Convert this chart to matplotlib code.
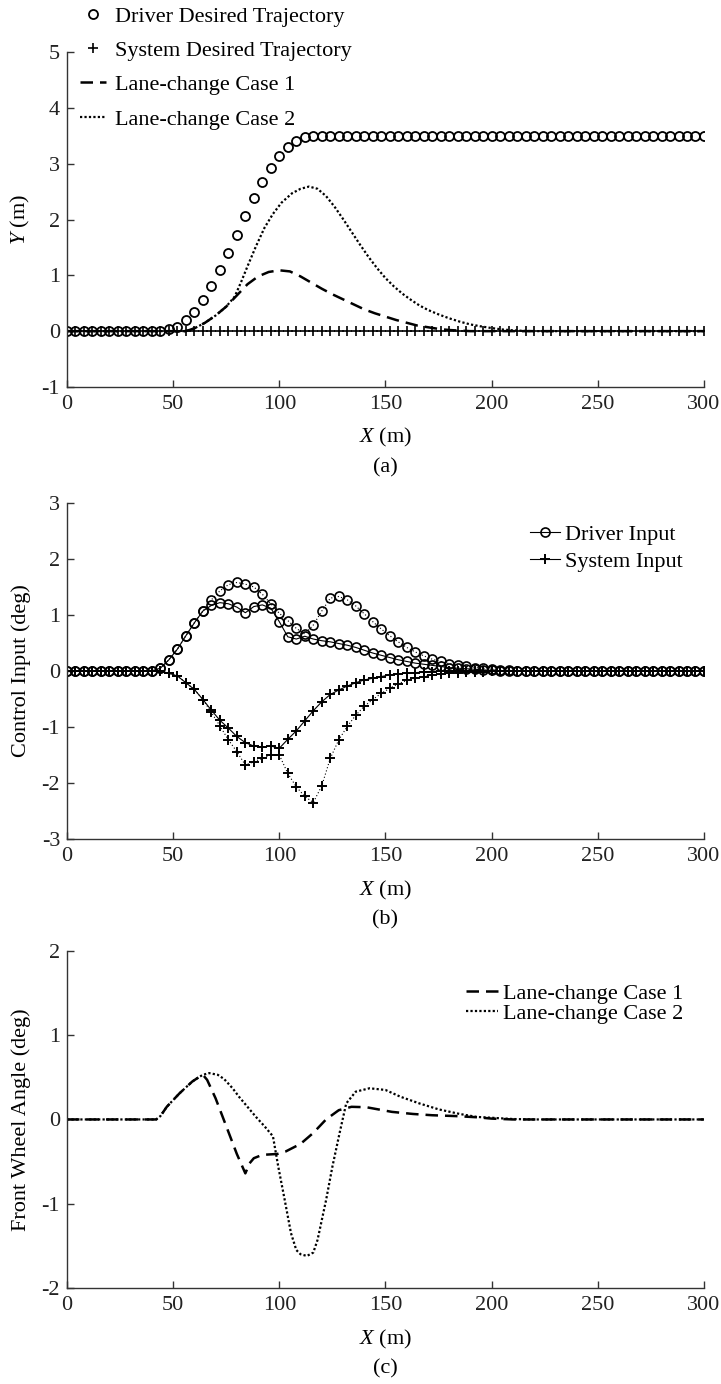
import numpy as np
import matplotlib
matplotlib.use("Agg")
import matplotlib.pyplot as plt

plt.rcParams['font.family'] = ['Liberation Serif', 'DejaVu Serif']
plt.rcParams['mathtext.fontset'] = 'custom'
plt.rcParams['mathtext.rm'] = 'Liberation Serif'
plt.rcParams['mathtext.it'] = 'Liberation Serif:italic'
plt.rcParams['axes.unicode_minus'] = False

# sample positions of the marker series (every 4 m)
x_mark = np.arange(0, 301, 4)

# (a) desired trajectories
driver_desired = [0, 0, 0, 0, 0, 0, 0, 0, 0, 0, 0, 0, 0.03, 0.08, 0.20, 0.35,
                  0.56, 0.81, 1.09, 1.40, 1.73, 2.07, 2.38, 2.67, 2.93, 3.13,
                  3.29, 3.41, 3.47, 3.5, 3.5, 3.5, 3.5, 3.5, 3.5, 3.5, 3.5, 3.5,
                  3.5, 3.5, 3.5, 3.5, 3.5, 3.5, 3.5, 3.5, 3.5, 3.5, 3.5, 3.5,
                  3.5, 3.5, 3.5, 3.5, 3.5, 3.5, 3.5, 3.5, 3.5, 3.5, 3.5, 3.5,
                  3.5, 3.5, 3.5, 3.5, 3.5, 3.5, 3.5, 3.5, 3.5, 3.5, 3.5, 3.5,
                  3.5, 3.5]
system_desired = [0.0] * 76

case1_x = [0, 56, 60, 65, 70, 75, 80, 85, 90, 95, 100, 105, 110, 115, 120, 125,
           130, 135, 140, 145, 150, 155, 160, 165, 170, 175, 180, 185, 190, 300]
case1_y = [0, 0, 0.05, 0.15, 0.28, 0.44, 0.64, 0.84, 0.98, 1.06, 1.09, 1.07,
           0.98, 0.87, 0.76, 0.66, 0.57, 0.48, 0.39, 0.32, 0.26, 0.20, 0.15,
           0.10, 0.07, 0.04, 0.02, 0.01, 0, 0]
case2_x = [0, 56, 60, 65, 70, 75, 79, 82, 85, 89, 93, 97, 101, 106, 110, 114,
           118, 122, 126, 130, 134, 138, 142, 146, 150, 154, 158, 162, 166, 170,
           175, 180, 185, 190, 195, 200, 205, 210, 215, 220, 300]
case2_y = [0, 0, 0.05, 0.15, 0.28, 0.44, 0.62, 0.88, 1.16, 1.52, 1.85, 2.10,
           2.30, 2.47, 2.55, 2.59, 2.55, 2.42, 2.23, 2.01, 1.78, 1.55, 1.33,
           1.13, 0.95, 0.80, 0.67, 0.56, 0.46, 0.38, 0.30, 0.23, 0.17, 0.12,
           0.085, 0.055, 0.03, 0.015, 0.005, 0, 0]

# (b) control inputs
driver_in1 = [0, 0, 0, 0, 0, 0, 0, 0, 0, 0, 0, 0.05, 0.2, 0.39, 0.63, 0.86, 1.07,
              1.17, 1.22, 1.20, 1.14, 1.04, 1.15, 1.18, 1.12, 0.88, 0.61, 0.57,
              0.62, 0.57, 0.54, 0.52, 0.49, 0.46, 0.42, 0.37, 0.32, 0.28, 0.24,
              0.20, 0.17, 0.14, 0.12, 0.10, 0.08, 0.06, 0.05, 0.04, 0.03, 0.02,
              0.01, 0, 0, 0, 0, 0, 0, 0, 0, 0, 0, 0, 0, 0, 0, 0, 0, 0, 0, 0, 0,
              0, 0, 0, 0, 0]
driver_in2 = [0, 0, 0, 0, 0, 0, 0, 0, 0, 0, 0, 0.05, 0.2, 0.39, 0.63, 0.86, 1.07,
              1.27, 1.43, 1.54, 1.58, 1.55, 1.50, 1.37, 1.20, 1.03, 0.90, 0.76,
              0.66, 0.82, 1.07, 1.30, 1.33, 1.27, 1.16, 1.02, 0.88, 0.75, 0.63,
              0.52, 0.42, 0.34, 0.27, 0.21, 0.17, 0.13, 0.10, 0.08, 0.06, 0.05,
              0.03, 0.02, 0.01, 0, 0, 0, 0, 0, 0, 0, 0, 0, 0, 0, 0, 0, 0, 0, 0,
              0, 0, 0, 0, 0, 0, 0]
system_in1 = [0, 0, 0, 0, 0, 0, 0, 0, 0, 0, 0, 0, -0.04, -0.09, -0.21, -0.33,
              -0.51, -0.70, -0.88, -1.02, -1.17, -1.28, -1.34, -1.36, -1.34,
              -1.38, -1.22, -1.07, -0.89, -0.71, -0.55, -0.42, -0.34, -0.27,
              -0.21, -0.16, -0.13, -0.10, -0.07, -0.05, -0.04, -0.03, -0.02,
              -0.01, 0, 0, 0, 0, 0, 0, 0, 0, 0, 0, 0, 0, 0, 0, 0, 0, 0, 0, 0, 0,
              0, 0, 0, 0, 0, 0, 0, 0, 0, 0, 0, 0]
system_in2 = [0, 0, 0, 0, 0, 0, 0, 0, 0, 0, 0, 0, -0.04, -0.09, -0.21, -0.33,
              -0.51, -0.74, -0.98, -1.23, -1.44, -1.68, -1.62, -1.56, -1.50,
              -1.50, -1.83, -2.07, -2.24, -2.35, -2.05, -1.56, -1.23, -0.99,
              -0.79, -0.63, -0.51, -0.40, -0.31, -0.23, -0.17, -0.13, -0.10,
              -0.07, -0.05, -0.04, -0.03, -0.02, -0.01, -0.01, 0, 0, 0, 0, 0, 0,
              0, 0, 0, 0, 0, 0, 0, 0, 0, 0, 0, 0, 0, 0, 0, 0, 0, 0, 0, 0]

# (c) front wheel angle
fw1_x = [0, 42, 44, 47, 50, 53, 56, 59, 62, 64, 66, 70, 75, 80, 84, 86, 88, 92,
         99, 103, 110, 116, 122, 128, 134, 141, 153, 163, 172, 183, 193, 200,
         210, 300]
fw1_y = [0, 0, 0.04, 0.15, 0.23, 0.31, 0.38, 0.45, 0.50, 0.53, 0.47, 0.25,
         -0.08, -0.41, -0.64, -0.52, -0.46, -0.42, -0.41, -0.38, -0.29, -0.16,
         0.0, 0.11, 0.15, 0.145, 0.09, 0.065, 0.05, 0.04, 0.026, 0.01, 0, 0]
fw2_x = [0, 42, 44, 47, 50, 53, 56, 59, 62, 64, 67, 71, 74, 78, 81, 85, 89, 93,
         97, 99.5, 102.5, 105.5, 108, 110, 113, 116, 118, 122, 125, 128.4,
         131.5, 136, 142.5, 150, 157, 166, 175, 185, 193, 200, 210, 220, 300]
fw2_y = [0, 0, 0.04, 0.15, 0.23, 0.31, 0.38, 0.45, 0.50, 0.53, 0.55, 0.53, 0.48,
         0.37, 0.27, 0.15, 0.03, -0.08, -0.20, -0.56, -0.95, -1.35, -1.55,
         -1.60, -1.62, -1.58, -1.43, -0.96, -0.56, -0.16, 0.19, 0.33, 0.37,
         0.35, 0.27, 0.19, 0.12, 0.065, 0.03, 0.02, 0.005, 0, 0]

fig = plt.figure(figsize=(7.21, 13.84), dpi=100)
L, W = 0.0929, 0.8835
ax_a = fig.add_axes([L, 0.7204, W, 0.2420])
ax_b = fig.add_axes([L, 0.3938, W, 0.2428])
ax_c = fig.add_axes([L, 0.0694, W, 0.2435])

dash = (0, (5, 2.8))
dot = (0, (1, 1))
fs = 16

# (a)
ax_a.plot(x_mark, driver_desired, 'o', ms=6.5, mfc='none', mec='k', mew=1.3,
          label='Driver Desired Trajectory')
ax_a.plot(x_mark, system_desired, '+', ms=7, mec='k', mew=1.2,
          label='System Desired Trajectory')
ax_a.plot(case1_x, case1_y, color='k', lw=1.8, ls=dash, label='Lane-change Case 1')
ax_a.plot(case2_x, case2_y, color='k', lw=1.6, ls=dot, label='Lane-change Case 2')
ax_a.set_ylim(-1, 5)
ax_a.set_ylabel('$Y$ (m)', fontsize=fs, va='center')
ax_a.legend(loc='upper left', bbox_to_anchor=(80 / 721, 1 - 6 / 1384),
            bbox_transform=fig.transFigure, frameon=False, fontsize=fs,
            handlelength=1.15, handletextpad=0.42, labelspacing=0.62,
            borderpad=0, borderaxespad=0)

# (b)
ax_b.plot(x_mark, driver_in1, '-o', color='k', lw=0.8, ms=6.5, mfc='none',
          mew=1.2, label='Driver Input')
ax_b.plot(x_mark, driver_in2, 'o', ls=(0, (1, 2)), color='k', lw=0.8, ms=6.5,
          mfc='none', mew=1.2)
ax_b.plot(x_mark, system_in1, '-+', color='k', lw=0.8, ms=7, mew=1.4,
          label='System Input')
ax_b.plot(x_mark, system_in2, '+', ls=(0, (1, 2)), color='k', lw=0.8, ms=7,
          mew=1.4)
ax_b.set_ylim(-3, 3)
ax_b.set_ylabel('Control Input (deg)', fontsize=fs, va='center')
ax_b.legend(loc='upper right', bbox_to_anchor=(683 / 721, 1 - 524 / 1384),
            bbox_transform=fig.transFigure, frameon=False, fontsize=fs,
            handlelength=1.35, handletextpad=0.22, labelspacing=0.3,
            borderpad=0, borderaxespad=0)

# (c)
ax_c.plot(fw1_x, fw1_y, color='k', lw=1.8, ls=dash, label='Lane-change Case 1')
ax_c.plot(fw2_x, fw2_y, color='k', lw=1.6, ls=dot, label='Lane-change Case 2')
ax_c.set_ylim(-2, 2)
ax_c.set_ylabel('Front Wheel Angle (deg)', fontsize=fs, va='center')
ax_c.legend(loc='upper right', bbox_to_anchor=(683 / 721, 1 - 983 / 1384),
            bbox_transform=fig.transFigure, frameon=False, fontsize=fs,
            handlelength=1.45, handletextpad=0.2, labelspacing=0.0,
            borderpad=0, borderaxespad=0)

for ax, tag in [(ax_a, '(a)'), (ax_b, '(b)'), (ax_c, '(c)')]:
    ax.set_xlim(0, 300)
    ax.set_xticks(range(0, 301, 50))
    ymin, ymax = ax.get_ylim()
    ax.set_yticks(range(int(ymin), int(ymax) + 1))
    for s in ['top', 'right']:
        ax.spines[s].set_visible(False)
    for s in ['left', 'bottom']:
        ax.spines[s].set_color('#333333')
        ax.spines[s].set_linewidth(1.0)
    ax.tick_params(direction='in', length=5, width=1, colors='#333333',
                   labelcolor='#222222', labelsize=fs)
    ax.tick_params(axis='x', pad=6)
    ax.tick_params(axis='y', pad=5)
    ax.set_xlabel('$X$ (m)', fontsize=fs, va='center')
    ax.xaxis.set_label_coords(0.5, -51 / 336)
    ax.yaxis.set_label_coords(-46 / 637, 0.5)
    ax.text(0.5, -81 / 336, tag, transform=ax.transAxes, ha='center',
            va='center', fontsize=fs)

fig.savefig('out.png', dpi=100)
